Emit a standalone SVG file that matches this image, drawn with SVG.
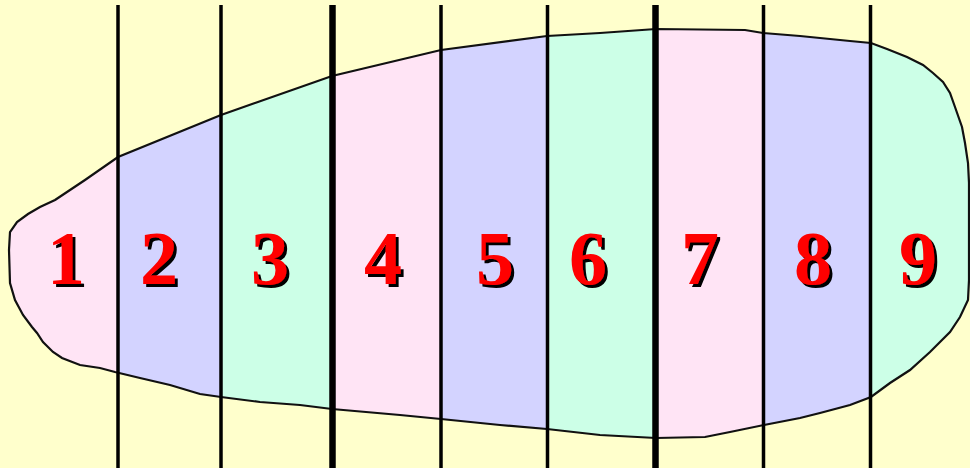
<svg xmlns="http://www.w3.org/2000/svg" width="970" height="468" viewBox="0 0 970 468">
<style>
.pink{fill:#FFE4F5}
.lav{fill:#D3D3FF}
.mint{fill:#CCFFE7}
.num{font-family:"Liberation Serif","Times New Roman",serif;font-weight:bold;font-size:76px;text-anchor:middle;fill:#FF0000;filter:url(#shadow)}
.thin{stroke:#000;stroke-width:3.5}
.thick{stroke:#000;stroke-width:6.5}
</style>
<defs>
<filter id="shadow" x="-20%" y="-20%" width="150%" height="150%">
<feOffset in="SourceAlpha" dx="2.5" dy="3" result="off"/>
<feMerge><feMergeNode in="off"/><feMergeNode in="SourceGraphic"/></feMerge>
</filter>
<path id="blob" d="M55,200 L85,180 L118,157 L221,115 L332,76 L441,50 L547,36 L600,33 L656,29 L745,30 L763,33 L800,36 L850,41 L871,43 L887,49 L907,57 L923,65 L933,73 L943,82 L950,93 L955,107 L962,127 L965,143 L968,163 L969,183 L969,280 L968,300 L960,317 L950,332 L930,352 L910,370 L890,383 L871,397 L850,405 L820,413 L800,418 L764,425 L730,432 L705,437 L656,438 L600,435 L547,429 L500,425 L441,419 L400,415 L332,409 L300,405 L260,402 L221,397 L200,394 L170,385 L140,378 L115,372 L100,368 L80,365 L62,358 L53,352 L43,342 L37,333 L32,327 L23,315 L15,300 L10,283 L9,250 L10,232 L17,222 L28,214 L40,207 Z"/>
<clipPath id="clip"><use href="#blob"/></clipPath>
</defs>
<rect width="970" height="468" fill="#FFFFCC"/>
<g id="strips" clip-path="url(#clip)">
<rect id="s1" class="pink" x="0" y="0" width="118" height="468"/>
<rect id="s2" class="lav" x="118" y="0" width="103" height="468"/>
<rect id="s3" class="mint" x="221" y="0" width="111" height="468"/>
<rect id="s4" class="pink" x="332" y="0" width="109" height="468"/>
<rect id="s5" class="lav" x="441" y="0" width="106" height="468"/>
<rect id="s6" class="mint" x="547" y="0" width="108" height="468"/>
<rect id="s7" class="pink" x="655" y="0" width="108" height="468"/>
<rect id="s8" class="lav" x="763" y="0" width="107" height="468"/>
<rect id="s9" class="mint" x="870" y="0" width="100" height="468"/>
</g>
<use href="#blob" fill="none" stroke="#111" stroke-width="2.2"/>
<g id="lines">
<line class="thin" x1="118" y1="5" x2="118" y2="468"/>
<line class="thin" x1="221" y1="5" x2="221" y2="468"/>
<line class="thick" x1="332.5" y1="5" x2="332.5" y2="468"/>
<line class="thin" x1="441" y1="5" x2="441" y2="468"/>
<line class="thin" x1="547.5" y1="5" x2="547.5" y2="468"/>
<line class="thick" x1="655.5" y1="5" x2="655.5" y2="468"/>
<line class="thin" x1="763.5" y1="5" x2="763.5" y2="468"/>
<line class="thin" x1="870.5" y1="5" x2="870.5" y2="468"/>
</g>
<g id="labels">
<text id="n1" class="num" x="66" y="284">1</text>
<text id="n2" class="num" x="159" y="284">2</text>
<text id="n3" class="num" x="270" y="284">3</text>
<text id="n4" class="num" x="383" y="284">4</text>
<text id="n5" class="num" x="495" y="284">5</text>
<text id="n6" class="num" x="588" y="284">6</text>
<text id="n7" class="num" x="700" y="284">7</text>
<text id="n8" class="num" x="813" y="284">8</text>
<text id="n9" class="num" x="918" y="284">9</text>
</g>
</svg>
